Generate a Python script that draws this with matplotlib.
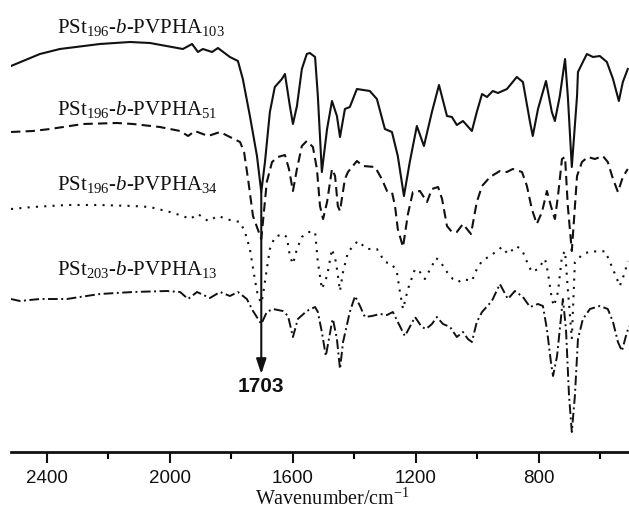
import matplotlib
matplotlib.use("Agg")
import matplotlib.pyplot as plt
from matplotlib.ticker import MultipleLocator

plt.rcParams['mathtext.fontset'] = 'custom'
plt.rcParams['mathtext.rm'] = 'Liberation Serif'
plt.rcParams['mathtext.it'] = 'Liberation Serif:italic'

# Wavenumber (cm^-1) and transmittance (arbitrary units, offsets included)
wn_103 = [2517, 2423, 2358, 2228, 2130, 2065, 1958, 1928, 1909, 1893, 1863, 1844, 1805, 1779, 1763, 1740,
          1717, 1703, 1691, 1675, 1659, 1636, 1626, 1610, 1600, 1587, 1571, 1555, 1545, 1528, 1519, 1506,
          1489, 1473, 1457, 1447, 1431, 1415, 1392, 1350, 1327, 1301, 1278, 1259, 1239, 1220, 1197, 1174,
          1148, 1125, 1099, 1083, 1067, 1047, 1018, 1002, 985, 969, 950, 933, 904, 872, 852, 829, 820, 803,
          777, 758, 748, 732, 715, 706, 693, 676, 673, 657, 644, 624, 602, 579, 559, 540, 527, 511]
t_103 = [386, 398, 403, 408, 410, 409, 403, 408, 400, 403, 400, 404, 395, 391, 373, 336,
         296, 260, 290, 340, 365, 373, 378, 346, 328, 346, 383, 398, 399, 395, 356, 280,
         323, 351, 336, 315, 343, 345, 363, 361, 353, 323, 320, 296, 256, 290, 326, 306,
         340, 367, 336, 335, 327, 331, 321, 340, 358, 355, 361, 359, 363, 375, 370, 330, 316, 343,
         371, 340, 331, 356, 393, 356, 285, 356, 380, 390, 398, 395, 396, 390, 373, 351, 370, 383]

wn_51 = [2517, 2446, 2390, 2283, 2172, 2120, 2033, 1967, 1941, 1919, 1876, 1837, 1805, 1772, 1759, 1746,
         1730, 1703, 1685, 1668, 1649, 1626, 1613, 1600, 1587, 1571, 1555, 1535, 1522, 1512, 1502, 1489,
         1473, 1463, 1454, 1447, 1431, 1421, 1392, 1372, 1333, 1311, 1294, 1278, 1268, 1259, 1242, 1226,
         1210, 1187, 1164, 1148, 1128, 1115, 1099, 1083, 1067, 1047, 1021, 1002, 985, 959, 927, 904, 885,
         855, 839, 823, 807, 790, 774, 761, 748, 738, 725, 715, 706, 693, 676, 660, 641, 618, 592, 576,
         559, 543, 527, 511]
t_51 = [320, 321, 323, 328, 329, 328, 325, 321, 316, 321, 316, 320, 315, 310, 300, 273,
        236, 213, 270, 290, 295, 297, 283, 261, 283, 306, 311, 305, 283, 246, 233, 250,
        283, 276, 246, 241, 273, 280, 291, 286, 285, 273, 261, 260, 246, 223, 205, 238,
        260, 261, 250, 263, 265, 253, 226, 220, 220, 228, 218, 250, 266, 275, 281, 280, 283,
        280, 266, 243, 228, 240, 261, 246, 233, 256, 293, 295, 246, 201, 276, 290, 295, 293, 296, 290,
        273, 260, 275, 283]

wn_34 = [2517, 2446, 2335, 2228, 2120, 2065, 2000, 1958, 1935, 1909, 1876, 1844, 1805, 1772, 1756, 1740,
         1724, 1714, 1703, 1698, 1685, 1675, 1659, 1633, 1620, 1610, 1600, 1587, 1571, 1551, 1528, 1519,
         1506, 1489, 1473, 1460, 1447, 1437, 1421, 1389, 1359, 1327, 1301, 1278, 1262, 1252, 1242, 1226,
         1203, 1187, 1171, 1148, 1135, 1122, 1099, 1080, 1063, 1047, 1018, 1002, 985, 950, 920, 901, 872,
         852, 836, 823, 803, 780, 771, 758, 751, 738, 725, 715, 706, 693, 683, 657, 628, 602, 585, 569,
         546, 537, 520, 511]
t_34 = [243, 245, 247, 247, 246, 245, 240, 236, 233, 238, 231, 236, 232, 230, 220, 203,
        173, 156, 149, 156, 183, 203, 215, 218, 215, 196, 188, 203, 215, 220, 220, 190,
        163, 176, 203, 190, 161, 180, 200, 211, 203, 203, 190, 188, 180, 160, 143, 163,
        183, 180, 173, 186, 194, 191, 180, 173, 170, 173, 171, 183, 191, 198, 205, 198, 206,
        200, 188, 180, 183, 193, 180, 153, 146, 160, 196, 201, 163, 113, 190, 198, 201, 200, 201, 190,
        173, 166, 180, 191]

wn_13 = [2517, 2488, 2423, 2335, 2293, 2228, 2120, 2010, 1967, 1941, 1912, 1870, 1837, 1805, 1779, 1750,
         1730, 1703, 1685, 1665, 1633, 1616, 1600, 1584, 1555, 1528, 1519, 1506, 1493, 1473, 1470, 1457,
         1447, 1437, 1415, 1398, 1382, 1366, 1343, 1317, 1294, 1275, 1259, 1236, 1220, 1203, 1181, 1167,
         1148, 1132, 1112, 1089, 1067, 1047, 1031, 1018, 1002, 985, 953, 927, 901, 878, 852, 829, 803,
         787, 774, 761, 754, 741, 732, 722, 712, 702, 693, 683, 673, 657, 634, 602, 576, 559, 543, 530,
         517, 507]
t_13 = [153, 151, 153, 153, 155, 158, 160, 161, 160, 153, 160, 154, 160, 156, 160, 153,
        141, 128, 140, 143, 141, 136, 115, 133, 141, 145, 140, 120, 96, 130, 133, 113,
        83, 110, 140, 156, 146, 135, 136, 138, 137, 140, 130, 116, 125, 135, 125, 123,
        128, 135, 128, 125, 115, 120, 113, 110, 130, 140, 151, 168, 153, 161, 155, 145, 148,
        146, 123, 90, 76, 96, 123, 153, 123, 56, 20, 56, 113, 133, 143, 146, 143, 130, 110, 101,
        116, 126]

labels = [r"PSt$_{196}$-$b$-PVPHA$_{103}$", r"PSt$_{196}$-$b$-PVPHA$_{51}$",
          r"PSt$_{196}$-$b$-PVPHA$_{34}$", r"PSt$_{203}$-$b$-PVPHA$_{13}$"]
label_pos = [(2367, 420), (2367, 338), (2367, 263), (2367, 178)]
peak_wn = 1703
peak_top = 260
peak_tip = 78

fig = plt.figure(figsize=(6.29, 5.10), dpi=100)
ax = fig.add_axes([11/629, 57/510, 618/629, 453/510])

c = '#111111'
ax.plot(wn_103, t_103, color=c, lw=1.5, ls='-')
ax.plot(wn_51, t_51, color=c, lw=1.5, ls=(0, (4.5, 2.5)))
ax.plot(wn_34, t_34, color=c, lw=1.5, ls=(0, (1, 3)))
ax.plot(wn_13, t_13, color=c, lw=1.4, ls=(0, (5, 1.8, 1, 1.8)))

for lab, (x, y) in zip(labels, label_pos):
    ax.text(x, y, lab, fontsize=15, family='Liberation Serif', va='baseline', ha='left', color=c)

ax.annotate('', xy=(peak_wn, peak_tip), xytext=(peak_wn, peak_top),
            arrowprops=dict(arrowstyle='-|>,head_length=0.9,head_width=0.3', color=c, lw=1.5,
                            shrinkA=0, shrinkB=0))
ax.text(peak_wn, peak_tip - 2, str(peak_wn), fontsize=15, fontweight='bold', family='Liberation Sans',
        ha='center', va='top', color=c)

ax.set_xlim(2517, 507)
ax.set_ylim(0, 453)
for s in ['top', 'right', 'left']:
    ax.spines[s].set_visible(False)
ax.spines['bottom'].set_linewidth(2)
ax.spines['bottom'].set_color(c)
ax.set_yticks([])
ax.xaxis.set_major_locator(MultipleLocator(400))
ax.xaxis.set_minor_locator(MultipleLocator(200))
ax.tick_params(axis='x', which='major', direction='out', length=8, width=1.5, pad=4,
               labelsize=13.5, colors=c)
ax.tick_params(axis='x', which='minor', direction='out', length=5, width=1.5)
for t in ax.get_xticklabels():
    t.set_family('Liberation Sans')
fig.text(332/629, 5/510, r"Wavenumber/cm$^{-1}$", fontsize=14.5, family='Liberation Serif',
         ha='center', va='baseline', color=c)

fig.savefig('out.png', dpi=100)
